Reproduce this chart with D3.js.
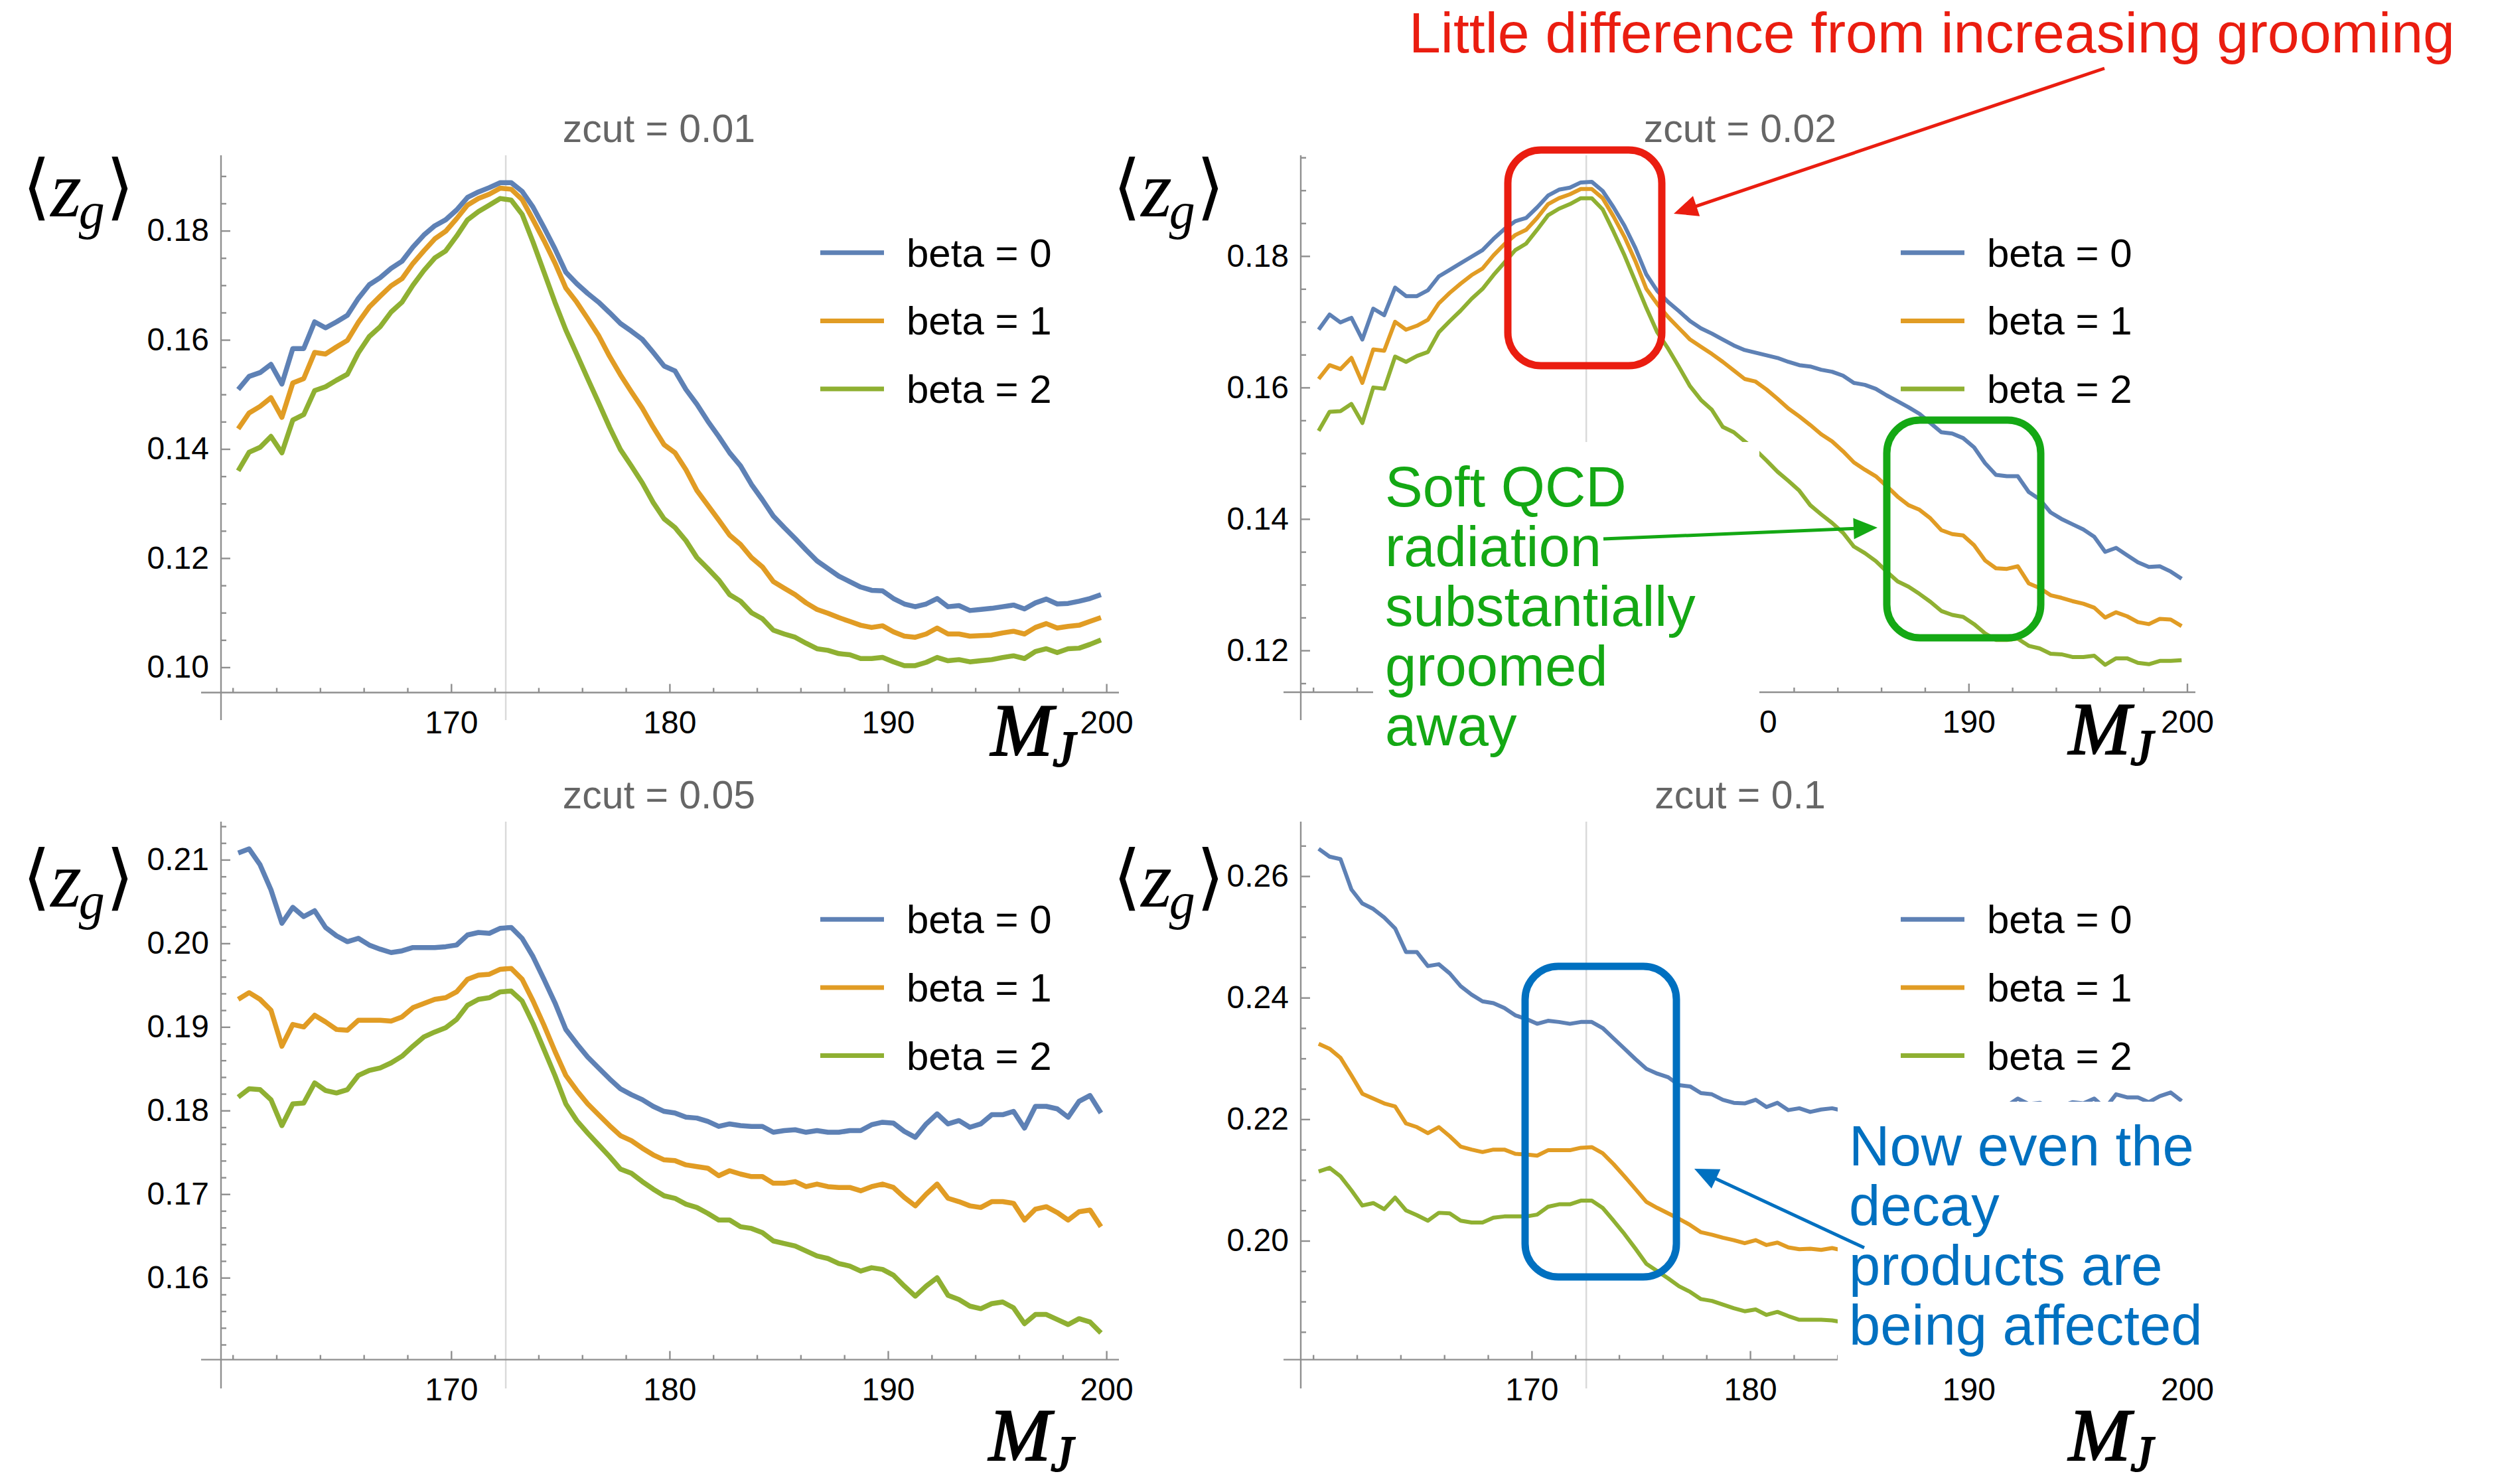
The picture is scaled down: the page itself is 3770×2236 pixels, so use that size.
<!DOCTYPE html>
<html>
<head>
<meta charset="utf-8">
<script src="https://cdn.jsdelivr.net/npm/d3@7"></script>
<style>
  html, body { margin: 0; padding: 0; background: #ffffff; }
  svg { display: block; }
</style>
</head>
<body>
<svg id="chart" width="3770" height="2236"></svg>
<script>
// ---------------------------------------------------------------
// Mean groomed momentum fraction <z_g> versus jet mass M_J,
// four grooming strengths (zcut), three angular exponents (beta)
// ---------------------------------------------------------------

// jet-mass bin centres (GeV)
const massBins = [
  160.25,160.75,161.25,161.75,162.25,162.75,163.25,163.75,164.25,164.75,
  165.25,165.75,166.25,166.75,167.25,167.75,168.25,168.75,169.25,169.75,
  170.25,170.75,171.25,171.75,172.25,172.75,173.25,173.75,174.25,174.75,
  175.25,175.75,176.25,176.75,177.25,177.75,178.25,178.75,179.25,179.75,
  180.25,180.75,181.25,181.75,182.25,182.75,183.25,183.75,184.25,184.75,
  185.25,185.75,186.25,186.75,187.25,187.75,188.25,188.75,189.25,189.75,
  190.25,190.75,191.25,191.75,192.25,192.75,193.25,193.75,194.25,194.75,
  195.25,195.75,196.25,196.75,197.25,197.75,198.25,198.75,199.25,199.75
];

const betaLabels = ["beta = 0", "beta = 1", "beta = 2"];
const betaColors = ["#5E81B5", "#E19C24", "#8FB032"];
const topMass = 172.5;

// zcut = 0.01
const zcut001_beta0 = [
  .1509,.1533,.1540,.1555,.1519,.1584,.1584,.1633,.1622,.1633,.1645,.1676,.1701,.1714,.1731,.1744,.1770,.1792,.1809,.1820,
  .1838,.1861,.1871,.1879,.1888,.1888,.1872,.1843,.1806,.1767,.1724,.1703,.1685,.1669,.1650,.1630,.1616,.1601,.1577,.1552,
  .1543,.1509,.1482,.1451,.1423,.1393,.1369,.1335,.1307,.1277,.1256,.1236,.1215,.1195,.1181,.1167,.1157,.1147,.1141,.1140,
  .1126,.1116,.1111,.1116,.1126,.1111,.1113,.1104,.1106,.1108,.1111,.1114,.1107,.1118,.1125,.1116,.1117,.1121,.1126,.1133
];
const zcut001_beta1 = [
  .1437,.1466,.1478,.1494,.1458,.1521,.1529,.1577,.1574,.1587,.1599,.1632,.1660,.1680,.1699,.1712,.1740,.1763,.1785,.1799,
  .1822,.1847,.1859,.1867,.1878,.1876,.1857,.1820,.1782,.1741,.1695,.1669,.1639,.1608,.1570,.1536,.1505,.1475,.1440,.1408,
  .1393,.1362,.1324,.1297,.1270,.1242,.1225,.1201,.1184,.1157,.1145,.1133,.1118,.1106,.1099,.1091,.1084,.1077,.1073,.1076,
  .1065,.1057,.1055,.1061,.1072,.1061,.1061,.1057,.1058,.1059,.1063,.1066,.1061,.1073,.1080,.1072,.1075,.1077,.1084,.1091
];
const zcut001_beta2 = [
  .1360,.1394,.1403,.1423,.1393,.1453,.1463,.1507,.1514,.1526,.1537,.1576,.1606,.1624,.1651,.1669,.1700,.1727,.1750,.1763,
  .1790,.1820,.1835,.1847,.1859,.1856,.1830,.1779,.1724,.1669,.1618,.1574,.1529,.1485,.1440,.1399,.1369,.1338,.1302,.1272,
  .1256,.1232,.1201,.1181,.1160,.1133,.1121,.1100,.1089,.1068,.1061,.1055,.1044,.1034,.1031,.1025,.1023,.1016,.1016,.1018,
  .1010,.1003,.1003,.1009,.1018,.1012,.1014,.1010,.1012,.1014,.1018,.1021,.1016,.1029,.1034,.1027,.1034,.1035,.1042,.1050
];

// zcut = 0.02
const zcut002_beta0 = [
  .1688,.1711,.1699,.1706,.1673,.1720,.1710,.1752,.1739,.1739,.1748,.1769,.1779,.1789,.1799,.1809,.1826,.1841,.1853,.1858,
  .1874,.1892,.1901,.1904,.1912,.1913,.1899,.1874,.1846,.1812,.1772,.1747,.1730,.1716,.1701,.1690,.1682,.1673,.1664,.1657,
  .1653,.1649,.1645,.1639,.1634,.1632,.1627,.1624,.1618,.1607,.1604,.1598,.1588,.1579,.1570,.1560,.1546,.1532,.1530,.1523,
  .1509,.1485,.1467,.1465,.1465,.1441,.1430,.1410,.1400,.1392,.1384,.1373,.1350,.1356,.1345,.1334,.1327,.1328,.1320,.1309
];
const zcut002_beta1 = [
  .1613,.1634,.1628,.1645,.1607,.1658,.1656,.1700,.1688,.1694,.1703,.1728,.1744,.1758,.1771,.1781,.1801,.1818,.1832,.1840,
  .1858,.1879,.1888,.1894,.1902,.1902,.1888,.1860,.1829,.1792,.1750,.1727,.1707,.1690,.1673,.1662,.1651,.1639,.1626,.1613,
  .1609,.1597,.1583,.1568,.1556,.1543,.1529,.1518,.1503,.1486,.1475,.1465,.1450,.1434,.1421,.1414,.1401,.1383,.1377,.1375,
  .1360,.1337,.1325,.1324,.1328,.1302,.1295,.1284,.1280,.1275,.1271,.1265,.1250,.1258,.1252,.1243,.1240,.1248,.1247,.1237
];
const zcut002_beta2 = [
  .1534,.1563,.1564,.1575,.1546,.1600,.1598,.1647,.1639,.1648,.1654,.1684,.1701,.1717,.1735,.1750,.1771,.1790,.1809,.1819,
  .1840,.1862,.1872,.1879,.1888,.1888,.1871,.1837,.1801,.1761,.1721,.1684,.1659,.1631,.1602,.1581,.1566,.1540,.1532,.1518,
  .1505,.1489,.1472,.1458,.1443,.1421,.1407,.1394,.1379,.1358,.1348,.1336,.1320,.1305,.1297,.1286,.1274,.1260,.1254,.1251,
  .1240,.1226,.1216,.1216,.1218,.1207,.1203,.1195,.1194,.1190,.1190,.1192,.1178,.1188,.1188,.1181,.1179,.1184,.1184,.1185
];

// zcut = 0.05
const zcut005_beta0 = [
  .2108,.2113,.2094,.2064,.2024,.2043,.2032,.2039,.2019,.2009,.2002,.2006,.1998,.1993,.1989,.1991,.1995,.1995,.1995,.1996,
  .1998,.2010,.2013,.2012,.2018,.2019,.2006,.1984,.1957,.1929,.1897,.1880,.1864,.1851,.1838,.1826,.1819,.1813,.1805,.1799,
  .1797,.1792,.1791,.1787,.1781,.1784,.1782,.1781,.1781,.1774,.1776,.1777,.1774,.1776,.1774,.1774,.1776,.1776,.1783,.1786,
  .1785,.1775,.1768,.1784,.1796,.1784,.1788,.1780,.1784,.1795,.1795,.1799,.1779,.1805,.1805,.1802,.1792,.1811,.1818,.1797
];
const zcut005_beta1 = [
  .1933,.1941,.1933,.1920,.1877,.1903,.1900,.1914,.1906,.1897,.1896,.1908,.1908,.1908,.1907,.1912,.1923,.1928,.1933,.1935,
  .1942,.1957,.1962,.1963,.1969,.1970,.1957,.1931,.1902,.1871,.1842,.1824,.1808,.1795,.1782,.1770,.1764,.1755,.1747,.1741,
  .1740,.1735,.1733,.1731,.1722,.1728,.1724,.1721,.1721,.1713,.1713,.1715,.1709,.1712,.1709,.1708,.1708,.1704,.1709,.1712,
  .1708,.1696,.1686,.1700,.1712,.1695,.1691,.1686,.1684,.1691,.1691,.1689,.1669,.1682,.1685,.1678,.1669,.1679,.1681,.1661
];
const zcut005_beta2 = [
  .1816,.1826,.1825,.1813,.1782,.1808,.1809,.1833,.1824,.1821,.1825,.1842,.1848,.1851,.1857,.1865,.1877,.1888,.1894,.1899,
  .1909,.1926,.1933,.1935,.1942,.1943,.1931,.1904,.1873,.1842,.1808,.1788,.1773,.1759,.1745,.1730,.1725,.1715,.1706,.1698,
  .1695,.1688,.1684,.1677,.1669,.1669,.1661,.1659,.1654,.1644,.1641,.1638,.1632,.1626,.1623,.1617,.1614,.1608,.1612,.1610,
  .1603,.1590,.1578,.1590,.1600,.1579,.1574,.1566,.1563,.1569,.1571,.1564,.1545,.1556,.1556,.1550,.1544,.1551,.1547,.1534
];

// zcut = 0.1
const zcut010_beta0 = [
  .2645,.2632,.2628,.2578,.2555,.2546,.2532,.2514,.2475,.2475,.2452,.2455,.2440,.2419,.2405,.2394,.2391,.2383,.2371,.2365,
  .2357,.2362,.2360,.2357,.2360,.2360,.2350,.2333,.2316,.2299,.2283,.2275,.2269,.2256,.2254,.2243,.2241,.2232,.2227,.2226,
  .2232,.2220,.2227,.2215,.2218,.2212,.2216,.2218,.2214,.2212,.2216,.2210,.2213,.2218,.2215,.2212,.2220,.2217,.2222,.2219,
  .2222,.2215,.2208,.2222,.2234,.2225,.2227,.2220,.2222,.2228,.2226,.2234,.2218,.2241,.2236,.2236,.2228,.2238,.2244,.2230
];
const zcut010_beta1 = [
  .2324,.2316,.2301,.2272,.2242,.2234,.2226,.2221,.2193,.2187,.2177,.2187,.2172,.2155,.2150,.2146,.2150,.2150,.2143,.2142,
  .2140,.2149,.2149,.2149,.2153,.2154,.2144,.2126,.2106,.2085,.2064,.2054,.2045,.2036,.2026,.2014,.2010,.2005,.2001,.1996,
  .2001,.1993,.1997,.1989,.1986,.1987,.1985,.1988,.1984,.1981,.1983,.1979,.1980,.1983,.1980,.1978,.1982,.1980,.1984,.1981,
  .1983,.1977,.1972,.1982,.1990,.1983,.1985,.1980,.1981,.1985,.1984,.1990,.1978,.1993,.1989,.1988,.1983,.1990,.1994,.1985
];
const zcut010_beta2 = [
  .2114,.2120,.2106,.2083,.2058,.2062,.2052,.2071,.2050,.2042,.2033,.2046,.2045,.2033,.2030,.2030,.2038,.2040,.2040,.2040,
  .2043,.2056,.2060,.2060,.2066,.2066,.2054,.2033,.2011,.1987,.1962,.1950,.1938,.1925,.1916,.1904,.1901,.1895,.1889,.1884,
  .1887,.1878,.1883,.1876,.1870,.1870,.1870,.1869,.1866,.1863,.1865,.1861,.1862,.1864,.1861,.1859,.1862,.1860,.1863,.1860,
  .1861,.1856,.1851,.1859,.1866,.1861,.1862,.1858,.1858,.1861,.1860,.1865,.1855,.1867,.1864,.1862,.1858,.1864,.1867,.1860
];

// axis ticks
const xMajorTicks = [170, 180, 190, 200];
const xMinorTicks = [160, 162, 164, 166, 168, 172, 174, 176, 178, 182, 184, 186, 188, 192, 194, 196, 198];
const yMajor001 = [0.10, 0.12, 0.14, 0.16, 0.18];
const yMajor002 = [0.12, 0.14, 0.16, 0.18];
const yMajor005 = [0.16, 0.17, 0.18, 0.19, 0.20, 0.21];
const yMajor010 = [0.20, 0.22, 0.24, 0.26];

// ---------------------------------------------------------------
// panel layout (pixels)
// ---------------------------------------------------------------
const panels = [
  { title: "zcut = 0.01", series: [zcut001_beta0, zcut001_beta1, zcut001_beta2],
    yMajor: yMajor001, yMinor: [0.100, 0.190, 0.005], yDomain: [0.10, 0.18], yRange: [1005.4, 347.6],
    xRange: [350.7, 1667.1], axisX: 333, axisY: 1043.5, axisTop: 234, axisBottom: 1085,
    xAxisEnds: [303, 1686], lineWidth: 7.5, titleX: 993, titleY: 214, xLabelsShown: [170, 180, 190, 200],
    legendX: 1236, legendY: 380.7, zgX: 34, zgY: 326, mjX: 1493, mjY: 1138 },
  { title: "zcut = 0.02", series: [zcut002_beta0, zcut002_beta1, zcut002_beta2],
    yMajor: yMajor002, yMinor: [0.115, 0.195, 0.005], yDomain: [0.12, 0.18], yRange: [980, 385.8],
    xRange: [1978.7, 3295.5], axisX: 1960, axisY: 1043, axisTop: 234, axisBottom: 1085,
    xAxisEnds: [1934, 3308], lineWidth: 6, titleX: 2622, titleY: 214, xLabelsShown: [180, 190, 200],
    legendX: 2864, legendY: 380.7, zgX: 1677, zgY: 326, mjX: 3117, mjY: 1136 },
  { title: "zcut = 0.05", series: [zcut005_beta0, zcut005_beta1, zcut005_beta2],
    yMajor: yMajor005, yMinor: [0.152, 0.214, 0.002], yDomain: [0.16, 0.21], yRange: [1925.2, 1295.4],
    xRange: [350.7, 1667.1], axisX: 333, axisY: 2048.6, axisTop: 1238, axisBottom: 2092,
    xAxisEnds: [303, 1686], lineWidth: 7.5, titleX: 993, titleY: 1218, xLabelsShown: [170, 180, 190, 200],
    legendX: 1236, legendY: 1385.2, zgX: 34, zgY: 1366, mjX: 1490, mjY: 2200 },
  { title: "zcut = 0.1", series: [zcut010_beta0, zcut010_beta1, zcut010_beta2],
    yMajor: yMajor010, yMinor: [0.185, 0.265, 0.005], yDomain: [0.20, 0.26], yRange: [1869.5, 1320.1],
    xRange: [1978.7, 3295.5], axisX: 1960, axisY: 2048.6, axisTop: 1238, axisBottom: 2092,
    xAxisEnds: [1934, 3308], lineWidth: 6, titleX: 2622, titleY: 1218, xLabelsShown: [170, 180, 190, 200],
    legendX: 2864, legendY: 1385.2, zgX: 1677, zgY: 1366, mjX: 3117, mjY: 2200 }
];

const svg = d3.select("#chart");
svg.append("rect").attr("width", 3770).attr("height", 2236).attr("fill", "#ffffff");

const AXIS_COLOR = "#8f8f8f";
const SANS = "'Liberation Sans', Arial, Helvetica, sans-serif";
const SERIF = "'Liberation Serif', 'Times New Roman', serif";

function styleAxis(sel) {
  sel.select(".domain").remove();
  sel.selectAll(".tick line").attr("stroke", AXIS_COLOR).attr("stroke-width", 2.4);
  sel.selectAll(".tick text")
    .attr("fill", "#000")
    .attr("font-family", SANS)
    .attr("font-size", 48);
}

function drawPanel(p) {
  const g = svg.append("g");
  const x = d3.scaleLinear().domain([160, 200]).range(p.xRange);
  const y = d3.scaleLinear().domain(p.yDomain).range(p.yRange);

  // vertical reference line at the top-quark mass
  g.append("line")
    .attr("x1", x(topMass)).attr("x2", x(topMass))
    .attr("y1", p.axisTop).attr("y2", p.axisBottom)
    .attr("stroke", "#dadada").attr("stroke-width", 2.5);

  // axis lines
  g.append("line")
    .attr("x1", p.xAxisEnds[0]).attr("x2", p.xAxisEnds[1])
    .attr("y1", p.axisY).attr("y2", p.axisY)
    .attr("stroke", AXIS_COLOR).attr("stroke-width", 2.4);
  g.append("line")
    .attr("x1", p.axisX).attr("x2", p.axisX)
    .attr("y1", p.axisTop).attr("y2", p.axisBottom)
    .attr("stroke", AXIS_COLOR).attr("stroke-width", 2.4);

  // x axis ticks (pointing into the plot) and labels
  g.append("g").attr("transform", `translate(0,${p.axisY})`)
    .call(d3.axisBottom(x).tickValues(xMinorTicks).tickSize(-7).tickFormat(""))
    .call(styleAxis);
  const xMajor = g.append("g").attr("transform", `translate(0,${p.axisY})`)
    .call(d3.axisBottom(x).tickValues(xMajorTicks).tickSize(-13).tickPadding(27)
      .tickFormat(d => p.xLabelsShown.includes(d) ? d3.format("d")(d) : ""))
    .call(styleAxis);
  xMajor.selectAll(".tick text").filter(function () { return this.textContent === ""; }).remove();

  // y axis ticks and labels
  const minor = d3.range(p.yMinor[0], p.yMinor[1] + p.yMinor[2] / 2, p.yMinor[2])
    .map(v => +v.toFixed(4))
    .filter(v => !p.yMajor.some(m => Math.abs(m - v) < 1e-6));
  g.append("g").attr("transform", `translate(${p.axisX},0)`)
    .call(d3.axisLeft(y).tickValues(minor).tickSize(-8).tickFormat(""))
    .call(styleAxis);
  g.append("g").attr("transform", `translate(${p.axisX},0)`)
    .call(d3.axisLeft(y).tickValues(p.yMajor).tickSize(-14).tickPadding(18).tickFormat(d3.format(".2f")))
    .call(styleAxis);

  // data curves
  const line = d3.line()
    .x((d, i) => x(massBins[i]))
    .y(d => y(d));
  p.series.forEach((s, k) => {
    g.append("path")
      .attr("d", line(s))
      .attr("fill", "none")
      .attr("stroke", betaColors[k])
      .attr("stroke-width", p.lineWidth)
      .attr("stroke-linejoin", "round")
      .attr("stroke-linecap", "butt");
  });

  // title
  g.append("text")
    .attr("x", p.titleX).attr("y", p.titleY)
    .attr("text-anchor", "middle")
    .attr("font-family", SANS).attr("font-size", 59)
    .attr("fill", "#666666")
    .text(p.title);

  // legend
  const lg = g.append("g");
  betaLabels.forEach((lab, k) => {
    const ly = p.legendY + k * 102.7;
    lg.append("line")
      .attr("x1", p.legendX).attr("x2", p.legendX + 96)
      .attr("y1", ly).attr("y2", ly)
      .attr("stroke", betaColors[k]).attr("stroke-width", 7);
    lg.append("text")
      .attr("x", p.legendX + 130).attr("y", ly + 21)
      .attr("font-family", SANS).attr("font-size", 60)
      .attr("fill", "#000")
      .text(lab);
  });

  // axis labels  <z_g>  and  M_J
  const zg = g.append("text")
    .attr("x", p.zgX).attr("y", p.zgY)
    .attr("font-family", SERIF).attr("font-size", 120).attr("fill", "#000");
  zg.append("tspan").attr("font-family", "'DejaVu Sans', sans-serif").attr("font-size", 108).attr("dy", -8).text("\u27E8");
  zg.append("tspan").attr("font-style", "italic").attr("dy", 8).text("z");
  zg.append("tspan").attr("font-style", "italic").attr("font-size", 78).attr("dx", -4).attr("dy", 18).text("g");
  zg.append("tspan").attr("font-family", "'DejaVu Sans', sans-serif").attr("font-size", 108).attr("dx", 2).attr("dy", -26).text("\u27E9");

  const mj = g.append("text")
    .attr("x", p.mjX).attr("y", p.mjY)
    .attr("font-family", SERIF).attr("font-style", "italic")
    .attr("font-size", 112).attr("fill", "#000")
    .attr("stroke", "#000").attr("stroke-width", 2.2);
  mj.append("tspan").text("M");
  mj.append("tspan").attr("font-size", 76).attr("dy", 16).text("J");
}

panels.forEach(drawPanel);

// ---------------------------------------------------------------
// annotations
// ---------------------------------------------------------------
const ann = svg.append("g");

// white panels behind the call-out texts
ann.append("rect").attr("x", 2069).attr("y", 666).attr("width", 582).attr("height", 480).attr("fill", "#ffffff");
ann.append("rect").attr("x", 2769).attr("y", 1660).attr("width", 565).attr("height", 406).attr("fill", "#ffffff");

const RED = "#EA1D10", GREEN = "#14A814", BLUE = "#0070C0";

function arrow(from, to, color, width, headLen, headHalf) {
  const dx = to[0] - from[0], dy = to[1] - from[1];
  const L = Math.hypot(dx, dy), ux = dx / L, uy = dy / L;
  const bx = to[0] - ux * headLen, by = to[1] - uy * headLen;
  ann.append("line")
    .attr("x1", from[0]).attr("y1", from[1])
    .attr("x2", bx + ux * 4).attr("y2", by + uy * 4)
    .attr("stroke", color).attr("stroke-width", width);
  ann.append("path")
    .attr("d", `M${to[0]},${to[1]} L${bx - uy * headHalf},${by + ux * headHalf} L${bx + uy * headHalf},${by - ux * headHalf} Z`)
    .attr("fill", color);
}

function callout(x, y, lines, color, size, lead) {
  const t = ann.append("text")
    .attr("font-family", SANS).attr("font-size", size).attr("fill", color);
  lines.forEach((s, i) => {
    t.append("tspan").attr("x", x).attr("y", y + i * lead).text(s);
  });
}

function roundBox(x, y, w, h, r, color) {
  ann.append("rect")
    .attr("x", x).attr("y", y).attr("width", w).attr("height", h)
    .attr("rx", r).attr("ry", r)
    .attr("fill", "none").attr("stroke", color).attr("stroke-width", 11);
}

// zcut = 0.02: peak barely changes with beta
callout(2123, 79, ["Little difference from increasing grooming"], RED, 86, 0);
arrow([3171, 103], [2522, 322], RED, 5, 36, 16);
roundBox(2272, 226, 232, 325, 50, RED);

// zcut = 0.02: high-mass tail
callout(2087, 763, ["Soft QCD", "radiation", "substantially", "groomed", "away"], GREEN, 85, 90);
arrow([2416, 812], [2829, 795], GREEN, 5, 36, 16);
roundBox(2843, 633, 232, 328, 50, GREEN);

// zcut = 0.1: peak region
callout(2786, 1756, ["Now even the", "decay", "products are", "being affected"], BLUE, 85, 90);
arrow([2809, 1880], [2553, 1761], BLUE, 5, 36, 16);
roundBox(2298, 1456, 228, 468, 50, BLUE);
</script>
</body>
</html>
